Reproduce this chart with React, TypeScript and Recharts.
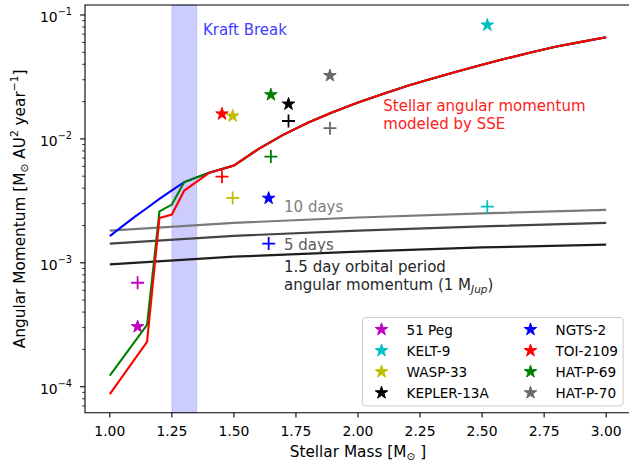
import React from 'react';
import { ComposedChart, Line, Scatter, XAxis, YAxis, ReferenceArea, ReferenceDot } from 'recharts';

const FONT = '"DejaVu Sans", Verdana, sans-serif';

// Axis ticks
const xTicks = [1.0, 1.25, 1.5, 1.75, 2.0, 2.25, 2.5, 2.75, 3.0];
const xTickLabels = ['1.00', '1.25', '1.50', '1.75', '2.00', '2.25', '2.50', '2.75', '3.00'];
const yMajorTicks = [1e-4, 1e-3, 1e-2, 1e-1];
const yMajorExponents = ['\u22124', '\u22123', '\u22122', '\u22121'];
const yMinorTicks = [
  7e-5, 8e-5, 9e-5,
  2e-4, 3e-4, 4e-4, 5e-4, 6e-4, 7e-4, 8e-4, 9e-4,
  2e-3, 3e-3, 4e-3, 5e-3, 6e-3, 7e-3, 8e-3, 9e-3,
  2e-2, 3e-2, 4e-2, 5e-2, 6e-2, 7e-2, 8e-2, 9e-2,
];
const xDomain = [0.9, 3.1];
const yDomain = [6.17e-5, 0.1204];

// Stellar angular momentum model curves (SSE)
const modelUpperMass = [1.6, 1.7, 1.8, 1.9, 2.0, 2.1, 2.2, 2.3, 2.4, 2.5, 2.6, 2.7, 2.8, 2.9, 3.0];
const modelUpperL = [
  8.32e-3, 1.084e-2, 1.357e-2, 1.65e-2, 1.97e-2, 2.3e-2, 2.68e-2, 3.07e-2,
  3.5e-2, 3.97e-2, 4.47e-2, 5.01e-2, 5.56e-2, 6.07e-2, 6.61e-2,
];

const blueMass = [1.0, 1.05, 1.1, 1.15, 1.2, 1.25, 1.3, 1.4, 1.5, ...modelUpperMass];
const blueL = [1.64e-3, 1.97e-3, 2.35e-3, 2.77e-3, 3.28e-3, 3.85e-3, 4.48e-3, 5.32e-3, 6.1e-3, ...modelUpperL];
const greenMass = [1.0, 1.15, 1.2, 1.25, 1.3, 1.4, 1.5, ...modelUpperMass];
const greenL = [1.23e-4, 3.15e-4, 2.6e-3, 2.95e-3, 4.48e-3, 5.32e-3, 6.1e-3, ...modelUpperL];
const redMass = [1.0, 1.15, 1.2, 1.25, 1.3, 1.4, 1.5, ...modelUpperMass];
const redL = [8.7e-5, 2.3e-4, 2.3e-3, 2.45e-3, 3.83e-3, 5.32e-3, 6.1e-3, ...modelUpperL];

// Orbital angular momentum (1 M_Jup)
const orbitMass = [1.0, 1.5, 2.0, 2.5, 3.0];
const orbit10d = [1.82e-3, 2.1e-3, 2.32e-3, 2.51e-3, 2.67e-3];
const orbit5d = [1.43e-3, 1.65e-3, 1.82e-3, 1.97e-3, 2.1e-3];
const orbit15d = [9.7e-4, 1.12e-3, 1.23e-3, 1.33e-3, 1.4e-3];

// Planets
const planetNames = ['51 Peg', 'KELT-9', 'WASP-33', 'KEPLER-13A', 'NGTS-2', 'TOI-2109', 'HAT-P-69', 'HAT-P-70'];
const planetColors = ['#bf00bf', '#00bfbf', '#bfbf00', '#000000', '#0000ff', '#ff0000', '#008000', '#696969'];
const stellarMass = [1.112, 2.521, 1.495, 1.72, 1.64, 1.452, 1.649, 1.887];
const starMarkerL = [3.05e-4, 0.083, 0.0153, 0.0191, 3.32e-3, 0.0159, 0.0227, 0.0324];
const plusMarkerL = [6.9e-4, 2.84e-3, 3.34e-3, 0.01395, 1.43e-3, 4.96e-3, 7.2e-3, 0.0122];

const toData = (xs: number[], ys: number[]) => xs.map((x, i) => ({ x, y: ys[i] }));

const starPoints = (cx: number, cy: number, r: number) => {
  const pts: string[] = [];
  for (let k = 0; k < 10; k++) {
    const rr = k % 2 === 0 ? r : r * 0.381966;
    const a = (-90 + k * 36) * (Math.PI / 180);
    pts.push(`${(cx + rr * Math.cos(a)).toFixed(2)},${(cy + rr * Math.sin(a)).toFixed(2)}`);
  }
  return pts.join(' ');
};

const StarMark = ({ cx, cy, color }: { cx: number; cy: number; color: string }) => (
  <polygon points={starPoints(cx, cy, 6.6)} fill={color} stroke={color} strokeWidth={1} strokeLinejoin="miter" />
);

const PlusMark = ({ cx, cy, color }: { cx: number; cy: number; color: string }) => (
  <g stroke={color} strokeWidth={1.8}>
    <line x1={cx - 6.5} x2={cx + 6.5} y1={cy} y2={cy} />
    <line x1={cx} x2={cx} y1={cy - 6.5} y2={cy + 6.5} />
  </g>
);

const XTick = (props: any) => {
  const { x, y, payload } = props;
  const idx = xTicks.indexOf(payload.value);
  return (
    <g>
      <line x1={x} x2={x} y1={y} y2={y + 4.9} stroke="#000" strokeWidth={1.1} />
      <text x={x} y={y + 23} textAnchor="middle" fontSize={13.9} fontFamily={FONT} fill="#000">
        {idx >= 0 ? xTickLabels[idx] : ''}
      </text>
    </g>
  );
};

const YTick = (props: any) => {
  const { x, y, payload } = props;
  const idx = yMajorTicks.findIndex((t) => Math.abs(t - payload.value) / t < 1e-6);
  const major = idx >= 0;
  return (
    <g>
      <line x1={x} x2={x - (major ? 4.9 : 2.8)} y1={y} y2={y} stroke="#000" strokeWidth={major ? 1.1 : 0.8} />
      {major && (
        <text x={x - 13} y={y + 7.5} textAnchor="end" fontSize={13.9} fontFamily={FONT} fill="#000">
          10
          <tspan dy={-7.5} fontSize={9.7}>{yMajorExponents[idx]}</tspan>
        </text>
      )}
    </g>
  );
};

const XLabel = (props: any) => {
  const vb = props.viewBox || {};
  const cx = vb.x + vb.width / 2;
  return (
    <text x={cx} y={vb.y + 44} textAnchor="middle" fontSize={15.3} fontFamily={FONT} fill="#000">
      Stellar Mass [M
      <tspan dy={3.3} fontSize={10.7}>{'\u2299'}</tspan>
      <tspan dy={-3.3}> ]</tspan>
    </text>
  );
};

const YLabel = (props: any) => {
  const vb = props.viewBox || {};
  const cx = vb.x + 24.5;
  const cy = vb.y + vb.height / 2;
  return (
    <text transform={`translate(${cx},${cy}) rotate(-90)`} textAnchor="middle" fontSize={15.3} fontFamily={FONT} fill="#000">
      Angular Momentum [M
      <tspan dy={3.3} fontSize={10.7}>{'\u2299'}</tspan>
      <tspan dy={-3.3}> AU</tspan>
      <tspan dy={-6.5} fontSize={10.7}>2</tspan>
      <tspan dy={6.5}> year</tspan>
      <tspan dy={-6.5} fontSize={10.7}>{'\u22121'}</tspan>
      <tspan dy={6.5}>]</tspan>
    </text>
  );
};

const makeText = (lines: React.ReactNode[], color: string) => (p: any) => (
  <text x={p.cx} y={p.cy} fontSize={15} fontFamily={FONT} fill={color}>
    {lines.map((l, i) => (
      <tspan key={i} x={p.cx} dy={i === 0 ? 0 : 18.2}>
        {l}
      </tspan>
    ))}
  </text>
);

const Legend = () => {
  const left = 362.7;
  const top = 317.3;
  return (
    <svg
      width={262}
      height={90}
      style={{ position: 'absolute', left: left - 0.5, top: top - 0.5, overflow: 'visible' }}
    >
      <rect x={0.5} y={0.5} width={260.6} height={88.4} rx={3} ry={3} fill="rgba(255,255,255,0.8)" stroke="#cccccc" strokeWidth={1} />
      {planetNames.map((name, i) => {
        const col = i < 4 ? 0 : 1;
        const row = i % 4;
        const mx = 19.5 + col * 149;
        const my = 12.5 + row * 21.1;
        return (
          <g key={name}>
            <StarMark cx={mx} cy={my} color={planetColors[i]} />
            <text x={mx + 25} y={my + 5} fontSize={13.6} fontFamily={FONT} fill="#000">
              {name}
            </text>
          </g>
        );
      })}
    </svg>
  );
};

export default function App() {
  return (
    <div style={{ position: 'absolute', left: 0, top: 0, width: 629, height: 466, overflow: 'hidden', background: '#fff' }}>
      <ComposedChart width={640} height={466} margin={{ top: 5, right: 9, bottom: 23.3, left: 0 }}>
        <XAxis
          type="number"
          dataKey="x"
          domain={xDomain}
          ticks={xTicks}
          tick={<XTick />}
          tickLine={false}
          axisLine={false}
          tickSize={0}
          tickMargin={0}
          interval={0}
          height={30}
          allowDataOverflow
          label={XLabel}
        />
        <YAxis
          type="number"
          dataKey="y"
          scale="log"
          domain={yDomain}
          ticks={[...yMinorTicks, ...yMajorTicks]}
          tick={<YTick />}
          tickLine={false}
          axisLine={false}
          tickSize={0}
          tickMargin={0}
          interval={0}
          width={85}
          allowDataOverflow
          label={YLabel}
        />
        <ReferenceArea
          x1={1.25}
          x2={1.35}
          y1={yDomain[0]}
          y2={yDomain[1]}
          fill="#0000ff"
          fillOpacity={0.2}
          stroke="#0000ff"
          strokeOpacity={0.15}
        />
        <Line data={toData(orbitMass, orbit10d)} dataKey="y" stroke="#7a7a7a" strokeWidth={2.2} dot={false} isAnimationActive={false} type="linear" />
        <Line data={toData(orbitMass, orbit5d)} dataKey="y" stroke="#444444" strokeWidth={2.2} dot={false} isAnimationActive={false} type="linear" />
        <Line data={toData(orbitMass, orbit15d)} dataKey="y" stroke="#1e1e1e" strokeWidth={2.2} dot={false} isAnimationActive={false} type="linear" />
        <Line data={toData(blueMass, blueL)} dataKey="y" stroke="#0000ff" strokeWidth={2.1} dot={false} isAnimationActive={false} type="linear" />
        <Line data={toData(greenMass, greenL)} dataKey="y" stroke="#008000" strokeWidth={2.1} dot={false} isAnimationActive={false} type="linear" />
        <Line data={toData(redMass, redL)} dataKey="y" stroke="#ff0000" strokeWidth={2.1} dot={false} isAnimationActive={false} type="linear" />
        {planetNames.map((name, i) => (
          <Scatter
            key={'plus-' + name}
            name={name + ' orbit'}
            data={[{ x: stellarMass[i], y: plusMarkerL[i] }]}
            isAnimationActive={false}
            shape={(p: any) => <PlusMark cx={p.cx} cy={p.cy} color={planetColors[i]} />}
          />
        ))}
        {planetNames.map((name, i) => (
          <Scatter
            key={'star-' + name}
            name={name}
            data={[{ x: stellarMass[i], y: starMarkerL[i] }]}
            isAnimationActive={false}
            shape={(p: any) => <StarMark cx={p.cx} cy={p.cy} color={planetColors[i]} />}
          />
        ))}
        <ReferenceDot x={1.375} y={0.069} r={0} shape={makeText(['Kraft Break'], '#4040ff')} />
        <ReferenceDot
          x={2.102}
          y={0.01674}
          r={0}
          shape={makeText(['Stellar angular momentum', 'modeled by SSE'], '#ff2020')}
        />
        <ReferenceDot x={1.702} y={2.56e-3} r={0} shape={makeText(['10 days'], '#808080')} />
        <ReferenceDot x={1.702} y={1.28e-3} r={0} shape={makeText(['5 days'], '#5a5a5a')} />
        <ReferenceDot
          x={1.702}
          y={8.5e-4}
          r={0}
          shape={makeText(
            [
              '1.5 day orbital period',
              <>
                angular momentum (1 M
                <tspan dy={3} fontSize={10.5} fontStyle="italic">Jup</tspan>
                <tspan dy={-3}>)</tspan>
              </>,
            ],
            '#262626'
          )}
        />
        <ReferenceArea
          x1={xDomain[0]}
          x2={xDomain[1]}
          y1={yDomain[0]}
          y2={yDomain[1]}
          fill="none"
          stroke="#000"
          strokeWidth={1.1}
        />
      </ComposedChart>
      <Legend />
    </div>
  );
}
